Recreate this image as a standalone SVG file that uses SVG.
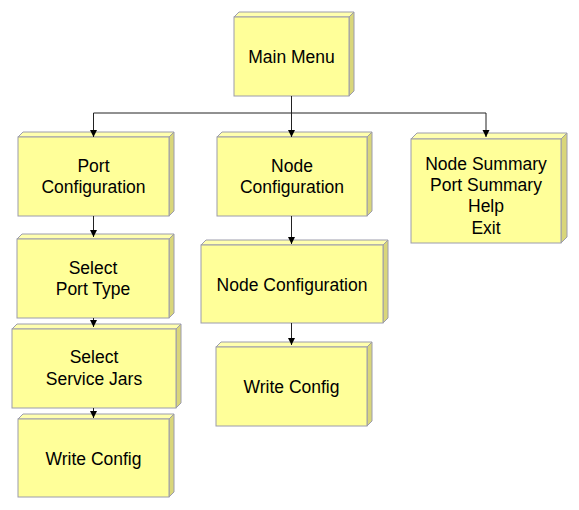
<svg xmlns="http://www.w3.org/2000/svg" width="579" height="510" viewBox="0 0 579 510">
<style>
.front{fill:#FFFF99;stroke:#9C9CAC;stroke-width:1}
.top{fill:#FFFFAE;stroke:#9C9CAC;stroke-width:1}
.side{fill:#D9D67A;stroke:#9C9CAC;stroke-width:1}
.lbl{font-family:"Liberation Sans",Arial,sans-serif;font-size:17.5px;fill:#000;text-anchor:middle}
.conn{fill:none;stroke:#222;stroke-width:1}
</style>
<defs>
<marker id="arr" markerWidth="7" markerHeight="8" refX="7" refY="3.5" orient="auto" markerUnits="userSpaceOnUse">
<path d="M0,0 L7,3.5 L0,7 Z" fill="#000"/>
</marker>
</defs>
<rect width="579" height="510" fill="#fff"/>
<g id="main-menu">
<polygon class="top" points="234,17 239,12 354,12 349,17"/>
<polygon class="side" points="349,17 354,12 354,91 349,96"/>
<rect class="front" x="234" y="17" width="115" height="79"/>
<text class="lbl" x="291.5" y="63">Main Menu</text>
</g>
<g id="port-config">
<polygon class="top" points="18,137 23,132 174,132 169,137"/>
<polygon class="side" points="169,137 174,132 174,211 169,216"/>
<rect class="front" x="18" y="137" width="151" height="79"/>
<text class="lbl" x="93.5" y="171.5">Port</text>
<text class="lbl" x="93.5" y="193">Configuration</text>
</g>
<g id="node-config">
<polygon class="top" points="217,137 222,132 372,132 367,137"/>
<polygon class="side" points="367,137 372,132 372,211 367,216"/>
<rect class="front" x="217" y="137" width="150" height="79"/>
<text class="lbl" x="292" y="171.5">Node</text>
<text class="lbl" x="292" y="193">Configuration</text>
</g>
<g id="summary">
<polygon class="top" points="411,139 417,133 567,133 561,139"/>
<polygon class="side" points="561,139 567,133 567,237 561,243"/>
<rect class="front" x="411" y="139" width="150" height="104"/>
<text class="lbl" x="486" y="169.5">Node Summary</text>
<text class="lbl" x="486" y="191">Port Summary</text>
<text class="lbl" x="486" y="212">Help</text>
<text class="lbl" x="486" y="233.5">Exit</text>
</g>
<g id="select-port-type">
<polygon class="top" points="17,239 22,234 174,234 169,239"/>
<polygon class="side" points="169,239 174,234 174,313 169,318"/>
<rect class="front" x="17" y="239" width="152" height="79"/>
<text class="lbl" x="93" y="273.5">Select</text>
<text class="lbl" x="93" y="295">Port Type</text>
</g>
<g id="select-service-jars">
<polygon class="top" points="12,329 17,324 181,324 176,329"/>
<polygon class="side" points="176,329 181,324 181,403 176,408"/>
<rect class="front" x="12" y="329" width="164" height="79"/>
<text class="lbl" x="94" y="363">Select</text>
<text class="lbl" x="94" y="385">Service Jars</text>
</g>
<g id="write-config-left">
<polygon class="top" points="18,419 23,414 174,414 169,419"/>
<polygon class="side" points="169,419 174,414 174,492 169,497"/>
<rect class="front" x="18" y="419" width="151" height="78"/>
<text class="lbl" x="93.5" y="465">Write Config</text>
</g>
<g id="node-config-2">
<polygon class="top" points="201,245 206,240 388,240 383,245"/>
<polygon class="side" points="383,245 388,240 388,318 383,323"/>
<rect class="front" x="201" y="245" width="182" height="78"/>
<text class="lbl" x="292" y="291">Node Configuration</text>
</g>
<g id="write-config-mid">
<polygon class="top" points="216,347 221,342 372,342 367,347"/>
<polygon class="side" points="367,347 372,342 372,421 367,426"/>
<rect class="front" x="216" y="347" width="151" height="79"/>
<text class="lbl" x="291.5" y="393">Write Config</text>
</g>
<g id="connectors">
<path class="conn" d="M291.5,96 V113 H93.5 V137" marker-end="url(#arr)"/>
<path class="conn" d="M291.5,96 V137" marker-end="url(#arr)"/>
<path class="conn" d="M291.5,113 H486 V137" marker-end="url(#arr)"/>
<path class="conn" d="M93.5,216 V237" marker-end="url(#arr)"/>
<path class="conn" d="M93.5,318 V327" marker-end="url(#arr)"/>
<path class="conn" d="M93.5,408 V418" marker-end="url(#arr)"/>
<path class="conn" d="M291.5,216 V244" marker-end="url(#arr)"/>
<path class="conn" d="M291.5,323 V345" marker-end="url(#arr)"/>
</g>
</svg>
